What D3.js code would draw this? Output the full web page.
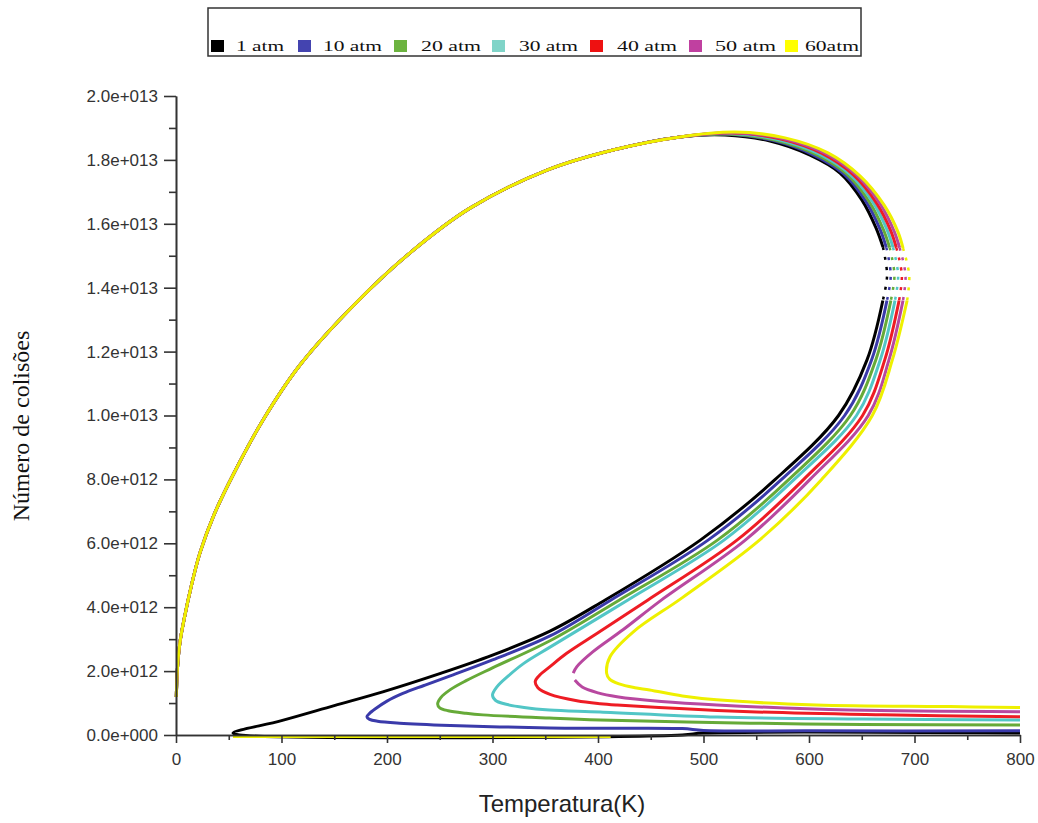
<!DOCTYPE html>
<html>
<head>
<meta charset="utf-8">
<script src="https://cdn.jsdelivr.net/npm/d3@7"></script>
<style>
	body { margin:0; background:#fff; }
	svg { display:block; }
</style>
</head>
<body>
<svg id="chart" width="1038" height="823"></svg>
<script>
// values: [temperatura (K), colisoes (x 1e12)]
var pressures = ["1 atm", "10 atm", "20 atm", "30 atm", "40 atm", "50 atm", "60atm"];
var lineColors = ["#000000", "#3a3aaa", "#66aa38", "#52c6c6", "#ee1c24", "#b848a0", "#eef000"];
var legendColors = ["#000000", "#4444b0", "#6cb33f", "#80d4c8", "#ee1111", "#c040a0", "#ffff00"];

var xTicks = [0, 100, 200, 300, 400, 500, 600, 700, 800];
var yTicks = [0, 2, 4, 6, 8, 10, 12, 14, 16, 18, 20];

// ramo superior, comum a todas as curvas
var upperBranch = [[0.3,1.19],[1.4,2.1],[3.8,2.91],[8.1,3.69],[14.7,4.69],[22.7,5.7],[36,6.89],[55,8.2],[82.5,9.86],
	[117.5,11.58],[168.7,13.46],[221.8,15.09],[278.7,16.49],[351.7,17.68],[414.2,18.31],[477.7,18.72]];

var branch1 = [[520.4,18.78],[563,18.59],[601,18.15],[629.4,17.59],[650.2,16.74],[663.5,15.87],[670.1,15.27],null,
	[670,13.6],[655,11.74],[628,10.0],[568,8.0],[497,6.1],[402,4.13],[354.5,3.25],[300,2.5],[250,1.92],[196,1.35],
	[150,0.92],[100,0.45],[54,0.06],[60,0.0],[480,0.0],[500,0.06],[800,0.06]];
var branch10 = [[522,18.8],[565.4,18.61],[603.9,18.16],[632.6,17.57],[653.8,16.71],[667.1,15.85],[673.3,15.26],null,
	[673.9,13.6],[659.3,11.74],[633.8,10.0],[574,8.0],[504.3,6.1],[412,4.22],[354.5,3.1],[300,2.35],[260,1.85],
	[235,1.55],[215,1.3],[200,1.06],[189,0.82],[183,0.66],[181,0.57],[183.5,0.49],[191,0.43],[212,0.37],[260,0.3],
	[354,0.22],[402,0.21],[480,0.2],[500,0.14],[600,0.13],[800,0.13]];
var branch20 = [[523.5,18.81],[567.7,18.62],[606.6,18.17],[635.6,17.56],[657.1,16.69],[670.4,15.83],[676.4,15.26],null,
	[677.6,13.6],[663.3,11.74],[639.2,10.0],[581,8.0],[513.2,6.1],[420,4.22],[354.5,2.95],[300,2.1],[275,1.7],
	[260,1.42],[251,1.17],[248,0.97],[250,0.85],[258,0.76],[275,0.68],[291,0.63],[354,0.53],[402,0.47],[544,0.37],
	[650,0.33],[800,0.31]];
var branch30 = [[525.2,18.83],[570.2,18.64],[609.5,18.19],[638.9,17.55],[660.7,16.67],[674,15.81],[679.6,15.26],null,
	[681.5,13.6],[667.5,11.74],[645,10.0],[586,8.0],[519.4,6.1],[428,4.22],[354.5,2.75],[330,2.25],[315,1.85],
	[304,1.5],[300,1.25],[303,1.08],[312,0.97],[330,0.86],[354,0.78],[402,0.72],[513,0.56],[650,0.5],[800,0.47]];
var branch40 = [[526.8,18.84],[572.6,18.66],[612.4,18.2],[642.1,17.53],[664.2,16.64],[677.5,15.78],[682.8,15.25],null,
	[685.4,13.6],[671.8,11.74],[650.8,10.0],[595,8.0],[531.7,6.1],[447,4.22],[400,3.2],[370,2.55],[354.5,2.14],
	[344,1.85],[340.5,1.67],[343,1.48],[354.5,1.27],[380,1.07],[402,0.98],[418,0.94],[544,0.73],[670,0.63],[800,0.57]];
var branch50 = [[528.3,18.85],[574.9,18.67],[615.1,18.21],[645.1,17.52],[667.5,16.62],[680.8,15.76],[685.9,15.25],null,
	[689.1,13.6],[675.8,11.74],[656.2,10.0],[601,8.0],[539.6,6.1],[460,4.22],[424,3.3],[395,2.6],[380,2.14],[376.5,1.94],
	null,[378,1.72],[385,1.5],[400,1.32],[418,1.2],[460,1.05],[512.5,0.94],[639,0.78],[800,0.73]];
var branch60 = [[529.9,18.87],[577.3,18.69],[618,18.22],[648.3,17.5],[671.1,16.59],[684.4,15.74],[689.1,15.24],null,
	[693,13.6],[679,11.74],[660,10.0],[612,8.0],[553,6.1],[480,4.3],[433.5,3.23],[411.4,2.45],[408.2,1.93],
	[411,1.75],[420,1.6],[435,1.48],[449,1.41],[480,1.22],[512.5,1.1],[607,0.94],[733.6,0.89],[800,0.86],
	null,[54,-0.05],[412,-0.05]];
// ponta tracejada a direita (N = 1.44e13)
var noseT = [674, 677.5, 681, 684.5, 688, 691.5, 695];

var branches = [branch1, branch10, branch20, branch30, branch40, branch50, branch60];

// layout
var legendX = [211, 298, 394, 492, 590, 689, 785];
var legendTextX = [236, 323, 421, 519, 617, 715, 805];
var legendTextLen = [48, 59, 60, 59, 60, 61, 54];

var svg = d3.select("#chart");
var x = d3.scaleLinear().domain([0, 800]).range([176, 1020]);
var y = d3.scaleLinear().domain([0, 20]).range([735, 96]);

function sci(v) {
	if(v == 0) return "0.0e+000";
	var val = v * 1e12;
	var e = Math.floor(Math.log10(val) + 1e-9);
	var m = val / Math.pow(10, e);
	return m.toFixed(1) + "e+" + String(e).padStart(3, "0");
}

var line = d3.line()
	.defined(function(d) { return d !== null; })
	.x(function(d) { return x(d[0]); })
	.y(function(d) { return y(d[1]); })
	.curve(d3.curveCatmullRom.alpha(0.5));

var plot = svg.append("g");
for(var i=0; i<branches.length; i++) {
	var pts = upperBranch.concat(branches[i]);
	plot.append("path")
		.attr("d", line(pts))
		.attr("fill", "none")
		.attr("stroke", lineColors[i])
		.attr("stroke-width", 3)
		.attr("stroke-linejoin", "round");
	// trecho falhado perto de 690 K
	var k = branches[i].indexOf(null);
	var nose = [branches[i][k-1], [noseT[i], 14.4], branches[i][k+1]];
	plot.append("path")
		.attr("d", line(nose))
		.attr("fill", "none")
		.attr("stroke", lineColors[i])
		.attr("stroke-width", 2.5)
		.attr("stroke-dasharray", "3,7");
}

// eixos
var axisColor = "#333";
svg.append("g").attr("transform", "translate(176,0)")
	.call(d3.axisLeft(y).tickValues(d3.range(1, 20, 2)).tickSize(7).tickFormat("").tickSizeOuter(0));
svg.append("g").attr("transform", "translate(176,0)")
	.call(d3.axisLeft(y).tickValues(yTicks).tickSize(12).tickPadding(6).tickFormat(sci).tickSizeOuter(0));
svg.append("g").attr("transform", "translate(0,735)")
	.call(d3.axisBottom(x).tickValues(d3.range(50, 800, 100)).tickSize(5).tickFormat("").tickSizeOuter(0));
svg.append("g").attr("transform", "translate(0,735)")
	.call(d3.axisBottom(x).tickValues(xTicks).tickSize(8).tickPadding(10).tickSizeOuter(0));

svg.selectAll(".domain, .tick line")
	.attr("stroke", axisColor)
	.attr("stroke-width", 1.6);
svg.selectAll(".tick text")
	.attr("fill", "#333")
	.style("font-family", "'Liberation Sans', Arial, sans-serif")
	.style("font-size", "17px");

// titulos
svg.append("text")
	.attr("x", 562).attr("y", 812)
	.attr("text-anchor", "middle")
	.style("font-family", "'Liberation Sans', Arial, sans-serif")
	.style("font-size", "24px")
	.attr("fill", "#222")
	.text("Temperatura(K)");
svg.append("text")
	.attr("transform", "translate(29,426) rotate(-90)")
	.attr("text-anchor", "middle")
	.style("font-family", "'Liberation Serif', 'Times New Roman', serif")
	.style("font-size", "24px")
	.attr("fill", "#111")
	.text("Número de colisões");

// legenda
var legend = svg.append("g");
legend.append("rect")
	.attr("x", 208).attr("y", 8).attr("width", 653).attr("height", 48)
	.attr("fill", "none").attr("stroke", "#333").attr("stroke-width", 1.5);
for(var j=0; j<pressures.length; j++) {
	legend.append("rect")
		.attr("x", legendX[j]).attr("y", 40).attr("width", 13).attr("height", 12)
		.attr("fill", legendColors[j]);
	legend.append("text")
		.attr("x", legendTextX[j]).attr("y", 51)
		.attr("textLength", legendTextLen[j])
		.attr("lengthAdjust", "spacingAndGlyphs")
		.style("font-family", "'Liberation Serif', 'Times New Roman', serif")
		.style("font-size", "14px")
		.attr("fill", "#111")
		.text(pressures[j]);
}
</script>
</body>
</html>
